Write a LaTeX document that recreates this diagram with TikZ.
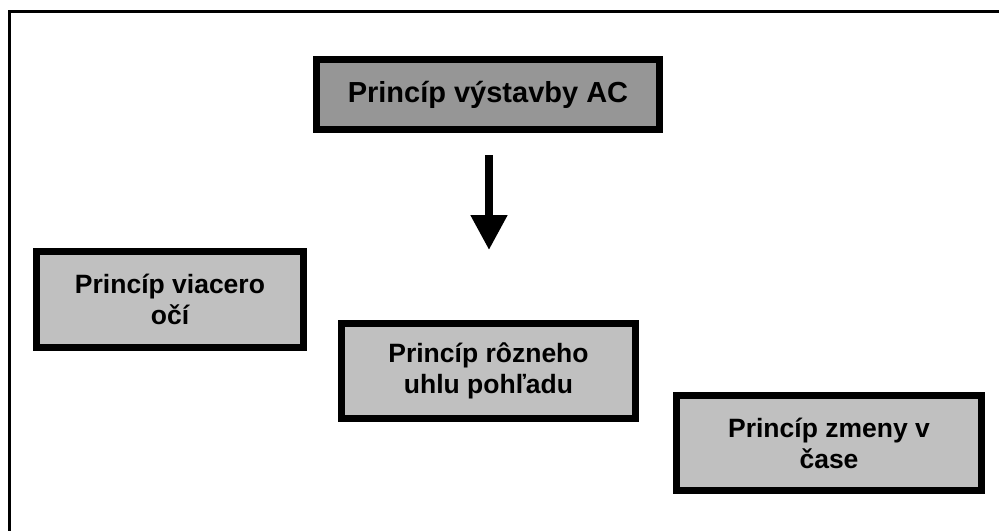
\documentclass[tikz,border=0pt]{standalone}
\usepackage{fontspec}
\setmainfont{Liberation Sans}
\usetikzlibrary{arrows.meta}
\definecolor{headgray}{HTML}{969696}
\definecolor{boxgray}{HTML}{C0C0C0}
\begin{document}
\begin{tikzpicture}[x=1pt,y=-1pt,
  principlebox/.style={draw=black, line width=7pt, rectangle, align=center,
    inner sep=0pt, font=\bfseries\fontsize{26.5}{31}\selectfont, fill=boxgray},
  headbox/.style={principlebox, fill=headgray, font=\bfseries\fontsize{29}{34}\selectfont},
  flowarrow/.style={line width=8pt, -{Triangle[length=35pt,width=35pt]}}]
  \useasboundingbox (0,0) rectangle (999,531);
  % frame along the top and left edges
  \draw[line width=3pt] (999,11) -- (9.5,11) -- (9.5,531);
  % title box
  \node[headbox, minimum width=343pt, minimum height=70pt] (head) at (488,94.5)
    {Princíp výstavby AC};
  % downward arrow
  \coordinate (arrowtop) at (489,155);
  \coordinate (arrowtip) at (489,250);
  \draw[flowarrow] (arrowtop) -- (arrowtip);
  % three principle boxes
  \node[principlebox, minimum width=267pt, minimum height=96pt] (eyes) at (170,299.5)
    {Princíp viacero\\očí};
  \node[principlebox, minimum width=294pt, minimum height=95pt] (angle) at (488.5,371)
    {Princíp rôzneho\\uhlu pohľadu};
  \node[principlebox, minimum width=305pt, minimum height=95pt] (time) at (829,443)
    {Princíp zmeny v\\čase};
\end{tikzpicture}
\end{document}
